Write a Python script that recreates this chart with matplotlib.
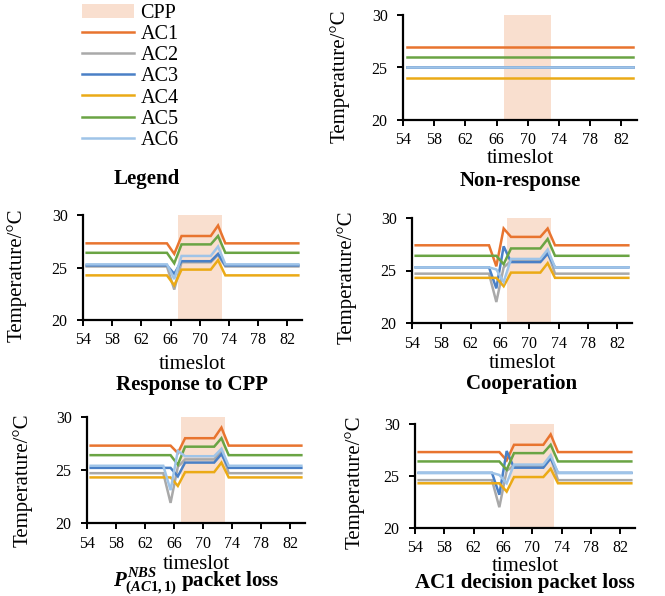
import numpy as np
import matplotlib
matplotlib.use('Agg')
import matplotlib.pyplot as plt
from matplotlib.lines import Line2D
from matplotlib.patches import Patch

plt.rcParams['font.family'] = ['Liberation Serif', 'DejaVu Serif']
plt.rcParams['mathtext.fontset'] = 'custom'
plt.rcParams['mathtext.it'] = 'Liberation Serif:italic:bold'
plt.rcParams['mathtext.rm'] = 'Liberation Serif:bold'
plt.rcParams['mathtext.bf'] = 'Liberation Serif:bold'

# timeslots 54..83, event window covers 64..73
timeslots = np.arange(54, 84)
window_start, window_end = 64, 73
cpp_start, cpp_end = 67, 73
ac_names = ['AC1', 'AC2', 'AC3', 'AC4', 'AC5', 'AC6']
ac_colors = ['#E8742F', '#A9A9A9', '#4A80C6', '#EBAA16', '#6AA444', '#9FC4E8']

# values for timeslots 64..73 (before/after the window the line stays flat)
non_response = {
    'AC1': [27.0] * 10,
    'AC2': [25.0] * 10,
    'AC3': [25.0] * 10,
    'AC4': [24.0] * 10,
    'AC5': [26.0] * 10,
    'AC6': [25.0] * 10,
}
response_cpp = {
    'AC1': [27.3, 27.3, 26.3, 28.0, 28.0, 28.0, 28.0, 28.0, 29.0, 27.3],
    'AC2': [25.1, 25.1, 22.9, 25.5, 25.5, 25.5, 25.5, 25.5, 26.2, 25.1],
    'AC3': [25.2, 25.2, 24.4, 25.6, 25.6, 25.6, 25.6, 25.6, 26.3, 25.2],
    'AC4': [24.25, 24.25, 23.3, 24.8, 24.8, 24.8, 24.8, 24.8, 25.7, 24.25],
    'AC5': [26.4, 26.4, 25.4, 27.2, 27.2, 27.2, 27.2, 27.2, 28.0, 26.4],
    'AC6': [25.3, 25.3, 23.9, 26.1, 26.1, 26.1, 26.1, 26.1, 27.0, 25.3],
}
cooperation = {
    'AC1': [27.4, 25.4, 29.0, 28.2, 28.2, 28.2, 28.2, 28.2, 29.0, 27.4],
    'AC2': [24.7, 22.0, 25.3, 25.9, 25.9, 25.9, 25.9, 25.9, 26.8, 24.7],
    'AC3': [25.3, 23.3, 27.3, 25.8, 25.8, 25.8, 25.8, 25.8, 26.6, 25.3],
    'AC4': [24.3, 24.3, 23.5, 24.8, 24.8, 24.8, 24.8, 24.8, 25.7, 24.3],
    'AC5': [26.4, 26.4, 25.6, 27.1, 27.1, 27.1, 27.1, 27.1, 28.0, 26.4],
    'AC6': [25.3, 25.1, 23.9, 26.1, 26.1, 26.1, 26.1, 26.1, 27.0, 25.3],
}
nbs_loss = {
    'AC1': [27.3, 27.3, 26.6, 28.0, 28.0, 28.0, 28.0, 28.0, 29.0, 27.3],
    'AC2': [24.7, 21.9, 25.3, 26.0, 26.0, 26.0, 26.0, 26.0, 26.8, 24.7],
    'AC3': [25.2, 25.2, 24.4, 25.7, 25.7, 25.7, 25.7, 25.7, 26.5, 25.2],
    'AC4': [24.3, 24.3, 23.5, 24.8, 24.8, 24.8, 24.8, 24.8, 25.7, 24.3],
    'AC5': [26.4, 26.4, 25.5, 27.2, 27.2, 27.2, 27.2, 27.2, 28.0, 26.4],
    'AC6': [25.4, 23.1, 26.8, 26.3, 26.3, 26.3, 26.3, 26.3, 27.0, 25.4],
}
ac1_decision_loss = {
    'AC1': [27.3, 27.3, 26.5, 28.0, 28.0, 28.0, 28.0, 28.0, 29.0, 27.3],
    'AC2': [24.6, 22.0, 25.5, 26.0, 26.0, 26.0, 26.0, 26.0, 26.8, 24.6],
    'AC3': [25.3, 23.2, 27.4, 25.8, 25.8, 25.8, 25.8, 25.8, 26.7, 25.3],
    'AC4': [24.3, 24.3, 23.5, 24.9, 24.9, 24.9, 24.9, 24.9, 25.7, 24.3],
    'AC5': [26.4, 26.4, 25.6, 27.2, 27.2, 27.2, 27.2, 27.2, 28.0, 26.4],
    'AC6': [25.3, 25.1, 24.3, 26.1, 26.1, 26.1, 26.1, 26.1, 27.0, 25.3],
}

W, H = 665, 596
fig = plt.figure(figsize=(W / 100, H / 100), dpi=100)


def full_series(win):
    before = [win[0]] * (window_start - timeslots[0])
    after = [win[-1]] * (timeslots[-1] - window_end)
    return np.array(before + list(win) + after)


def px_axes(l, t, r, b):
    return fig.add_axes([l / W, 1 - b / H, (r - l) / W, (b - t) / H])


def draw_panel(box, data, title, ylab_xy, xlab_base, title_base):
    ax = px_axes(*box)
    ax.axvspan(cpp_start, cpp_end, color='#F9DFCF', lw=0, zorder=0)
    for name, col in zip(ac_names, ac_colors):
        # Excel category axis: points sit in the middle of each slot
        ax.plot(timeslots + 0.5, full_series(data[name]), color=col, lw=1.8,
                solid_joinstyle='miter', zorder=2)
    ax.set_xlim(54, 84)
    ax.set_ylim(20, 30)
    ax.set_xticks(np.arange(54, 84, 4))
    ax.set_yticks([20, 25, 30])
    for s in ['top', 'right']:
        ax.spines[s].set_visible(False)
    for s in ['left', 'bottom']:
        ax.spines[s].set_linewidth(1.6)
    ax.tick_params(direction='out', length=4, width=1.4, labelsize=11.5)
    ax.tick_params(axis='x', pad=5)
    ax.tick_params(axis='y', pad=7)
    cx = (box[0] + box[2]) / 2
    fig.text(ylab_xy[0] / W, 1 - ylab_xy[1] / H, 'Temperature/°C', rotation=90,
             ha='center', va='center', fontsize=15)
    fig.text(cx / W, 1 - xlab_base / H, 'timeslot', ha='center', va='baseline',
             fontsize=15)
    fig.text(cx / W, 1 - title_base / H, title, ha='center', va='baseline',
             fontsize=15, fontweight='bold')
    return ax


draw_panel((403, 15, 637, 120), non_response, 'Non-response', (340, 76), 163, 186)
draw_panel((83, 215, 302, 320), response_cpp, 'Response to CPP', (17, 275), 369, 390)
draw_panel((412, 218, 632, 323), cooperation, 'Cooperation', (347, 277), 368, 389)
draw_panel((87, 417, 305, 523), nbs_loss, r'$P^{NBS}_{(AC1,1)}$ packet loss', (23, 480), 569, 587)
draw_panel((415, 424, 635, 528), ac1_decision_loss, 'AC1 decision packet loss', (355, 482), 571, 588)

# legend panel
handles = [Patch(facecolor='#F9DFCF', edgecolor='none')]
handles += [Line2D([], [], color=c, lw=1.8) for c in ac_colors]
fig.legend(handles, ['CPP'] + ac_names, loc='upper left',
           bbox_to_anchor=(82 / W, 1 - 4 / H), frameon=False, fontsize=14.5,
           handlelength=2.6, handletextpad=0.3, labelspacing=0.1, borderpad=0,
           borderaxespad=0)
fig.text(147 / W, 1 - 184 / H, 'Legend', ha='center', va='baseline',
         fontsize=15, fontweight='bold')

fig.savefig('out.png', dpi=100)
